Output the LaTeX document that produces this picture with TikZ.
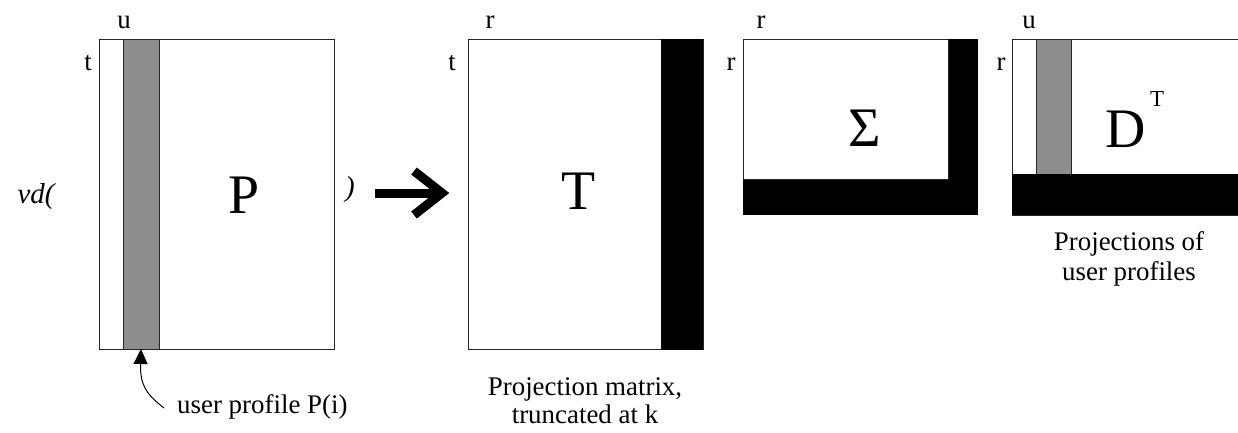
\documentclass[tikz,border=0pt]{standalone}
\usepackage{fontspec}
\setmainfont{Liberation Serif}
\usetikzlibrary{arrows.meta}
\definecolor{stripgray}{RGB}{141,141,141}
\begin{document}
\begin{tikzpicture}[x=1bp,y=-1bp,
  lbl/.style={font=\fontsize{27}{30}\selectfont, inner sep=0pt, anchor=base},
  big/.style={font=\fontsize{56}{60}\selectfont, inner sep=0pt, anchor=base},
  sup/.style={font=\fontsize{23}{25}\selectfont, inner sep=0pt, anchor=base},
  ital/.style={font=\fontsize{29}{31}\selectfont\itshape, inner sep=0pt, anchor=base},
  box/.style={draw=black!85, line width=1bp, fill=white, inner sep=0pt, outer sep=0pt, rectangle},
  graybox/.style={box, fill=stripgray},
  blackbox/.style={fill=black, inner sep=0pt, outer sep=0pt, rectangle},
  bigarrow/.style={line width=9bp, miter limit=10},
]
\useasboundingbox (0,0) rectangle (1238,432);

% ---- P matrix
\node[box, minimum width=234bp, minimum height=310bp] (P) at (217,194) {};
\node[graybox, minimum width=36bp, minimum height=310bp] (Pstrip) at (141,194) {};
\node[lbl] (Pu) at (124,28) {u};
\node[lbl] (Pt) at (88,70) {t};
\node[big] (Plab) at (244,213) {P};
\node[ital] (svd) at (36,203) {vd(};
\node[ital] (close) at (350,196) {)};
\node[lbl, anchor=base west] (Pcap) at (177,413) {user profile P(i)};
\coordinate (ustart) at (164,408);
\draw[line width=1bp, -{Triangle[length=15bp,width=14bp]}]
  (ustart) .. controls (146,394) and (140,385) .. (Pstrip.south);

% ---- big arrow
\coordinate (a0) at (375,193);
\coordinate (a1) at (440,193);
\coordinate (h1) at (414,171);
\coordinate (h2) at (442,193);
\coordinate (h3) at (414,215);
\draw[bigarrow] (a0) -- (a1);
\draw[bigarrow] (h1) -- (h2) -- (h3);

% ---- T matrix
\node[box, minimum width=235bp, minimum height=310bp] (T) at (585.5,194) {};
\node[blackbox, minimum width=42bp, minimum height=311bp] (Tblk) at (682,194) {};
\node[lbl] (Tr) at (490,28) {r};
\node[lbl] (Tt) at (452,70) {t};
\node[big] (Tlab) at (579,209) {T};
\node[lbl] (Tcap1) at (585,395) {Projection matrix,};
\node[lbl] (Tcap2) at (585,423) {truncated at k};

% ---- Sigma matrix
\node[blackbox, minimum width=235bp, minimum height=176bp] (S) at (860.5,127) {};
\node[box, minimum width=205bp, minimum height=140bp] (Sin) at (845.5,109) {};
\node[lbl] (Sr1) at (761,28) {r};
\node[lbl] (Sr2) at (731,70) {r};
\node[big] (Slab) at (865,146) {Σ};

% ---- D^T matrix
\node[box, minimum width=226bp, minimum height=176bp] (D) at (1125,127) {};
\node[graybox, minimum width=35bp, minimum height=135bp] (Dstrip) at (1053.5,106.5) {};
\node[blackbox, minimum width=227bp, minimum height=41bp] (Dblk) at (1125,194.5) {};
\node[lbl] (Du) at (1029,28) {u};
\node[lbl] (Dr) at (1001,70) {r};
\node[big] (Dlab) at (1126,147) {D};
\node[sup] (Dsup) at (1157,106) {T};
\node[lbl] (Dcap1) at (1129,250) {Projections of};
\node[lbl] (Dcap2) at (1129,280) {user profiles};
\end{tikzpicture}
\end{document}
